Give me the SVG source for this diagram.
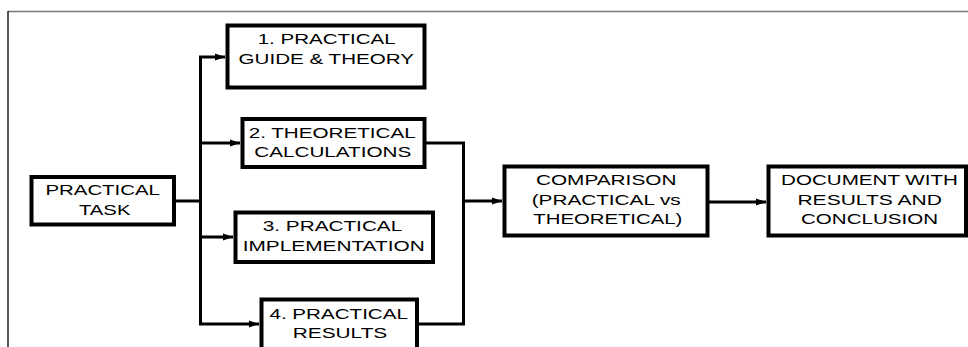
<svg xmlns="http://www.w3.org/2000/svg" width="968" height="347" viewBox="0 0 968 347">
<style>
.box{fill:#fff;stroke:#000;stroke-width:4}
.lbl{font-family:"Liberation Sans",Arial,sans-serif;font-size:15px;fill:#000;text-anchor:middle}
.con{fill:none;stroke:#000;stroke-width:3}
</style>
<defs>
<marker id="arr" markerUnits="userSpaceOnUse" markerWidth="11" markerHeight="8" refX="10" refY="4" orient="auto">
<path d="M0,0.5 L10,4 L0,7.5 z" fill="#000"/>
</marker>
</defs>
<rect width="968" height="347" fill="#fff"/>
<g id="frame">
<line x1="8" y1="11.5" x2="968" y2="11.5" stroke="#7a7a7a" stroke-width="1.5"/>
<line x1="8" y1="11" x2="8" y2="347" stroke="#000" stroke-width="1.3"/>
</g>
<g id="connectors">
<path class="con" d="M174,201 H200.5"/>
<path class="con" d="M200.5,201 V57 H225" marker-end="url(#arr)"/>
<path class="con" d="M200.5,201 V143 H240" marker-end="url(#arr)"/>
<path class="con" d="M200.5,201 V237 H233" marker-end="url(#arr)"/>
<path class="con" d="M200.5,201 V324 H259" marker-end="url(#arr)"/>
<path class="con" d="M424.5,143 H463.5 V201 H502" marker-end="url(#arr)"/>
<path class="con" d="M417,324 H463.5 V201"/>
<path class="con" d="M707.5,202 H766" marker-end="url(#arr)"/>
</g>
<g id="task">
<rect class="box" x="31.5" y="177" width="142.5" height="47.5"/>
<text class="lbl" x="102.7" y="194.7" textLength="114.5" lengthAdjust="spacingAndGlyphs">PRACTICAL</text>
<text class="lbl" x="104.7" y="214.7" textLength="51.5" lengthAdjust="spacingAndGlyphs">TASK</text>
</g>
<g id="guide">
<rect class="box" x="227.5" y="25.5" width="197" height="62"/>
<text class="lbl" x="326.7" y="44" textLength="138" lengthAdjust="spacingAndGlyphs">1. PRACTICAL</text>
<text class="lbl" x="326.3" y="64" textLength="175.5" lengthAdjust="spacingAndGlyphs">GUIDE &amp; THEORY</text>
</g>
<g id="calc">
<rect class="box" x="242.5" y="119" width="182" height="48"/>
<text class="lbl" x="332.2" y="137.5" textLength="167" lengthAdjust="spacingAndGlyphs">2. THEORETICAL</text>
<text class="lbl" x="332.8" y="157" textLength="157" lengthAdjust="spacingAndGlyphs">CALCULATIONS</text>
</g>
<g id="impl">
<rect class="box" x="235.5" y="212.5" width="197.5" height="49.5"/>
<text class="lbl" x="332.5" y="231.3" textLength="139.5" lengthAdjust="spacingAndGlyphs">3. PRACTICAL</text>
<text class="lbl" x="333.7" y="251.3" textLength="182" lengthAdjust="spacingAndGlyphs">IMPLEMENTATION</text>
</g>
<g id="results">
<rect class="box" x="261.5" y="299.5" width="155.5" height="60"/>
<text class="lbl" x="338.7" y="319" textLength="138.5" lengthAdjust="spacingAndGlyphs">4. PRACTICAL</text>
<text class="lbl" x="340" y="338.3" textLength="94.5" lengthAdjust="spacingAndGlyphs">RESULTS</text>
</g>
<g id="comparison">
<rect class="box" x="504.5" y="166.5" width="203" height="69"/>
<text class="lbl" x="606.2" y="184.5" textLength="140.5" lengthAdjust="spacingAndGlyphs">COMPARISON</text>
<text class="lbl" x="606.2" y="204.5" textLength="149" lengthAdjust="spacingAndGlyphs">(PRACTICAL vs</text>
<text class="lbl" x="607.8" y="224" textLength="149" lengthAdjust="spacingAndGlyphs">THEORETICAL)</text>
</g>
<g id="document">
<rect class="box" x="768.5" y="166.5" width="197.5" height="69"/>
<text class="lbl" x="869.5" y="184.5" textLength="177" lengthAdjust="spacingAndGlyphs">DOCUMENT WITH</text>
<text class="lbl" x="869.7" y="204.5" textLength="144.5" lengthAdjust="spacingAndGlyphs">RESULTS AND</text>
<text class="lbl" x="869.5" y="224" textLength="137" lengthAdjust="spacingAndGlyphs">CONCLUSION</text>
</g>
</svg>
